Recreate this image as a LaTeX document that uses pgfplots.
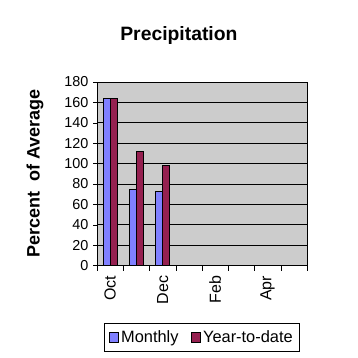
\documentclass[border=0pt]{standalone}
\usepackage{pgfplots}
\pgfplotsset{compat=1.18}
\usepackage{fontspec}
\setmainfont{Liberation Sans}
\definecolor{bgdots}{HTML}{CCCCCC}
\definecolor{monthly}{HTML}{8080FF}
\definecolor{ytd}{HTML}{952050}
\begin{document}
\begin{tikzpicture}
\useasboundingbox (0pt,0pt) rectangle (268.5pt,268.5pt);
\begin{axis}[
  at={(72.75pt,69.3pt)}, anchor=south west,
  scale only axis,
  width=157.5pt, height=137.7pt,
  axis background/.style={fill=bgdots},
  ybar=0pt, bar width=5.25pt,
  xmin=-0.5, xmax=7.5,
  ymin=0, ymax=180,
  ytick={0,20,...,180},
  xtick={0,...,7},
  xticklabels={Oct,,Dec,,Feb,,Apr,},
  major x tick style={draw=none},
  minor xtick={-0.5,0.5,...,7.5},
  minor tick length=4pt,
  tick align=outside,
  major tick length=3pt,
  xtick pos=bottom, ytick pos=left,
  x tick label style={rotate=90, anchor=east, inner xsep=4.5pt, font=\fontsize{12}{13}\selectfont},
  y tick label style={font=\fontsize{10.8}{12}\selectfont},
  /pgf/number format/assume math mode=true,
  ymajorgrids, grid style={black, line width=0.6pt},
  axis line style={gray},
  separate axis lines,
  every outer x axis line/.append style={black},
  every outer y axis line/.append style={black},
  tick style={black},
  ylabel={\bfseries Percent\ \ of Average},
  ylabel style={font=\fontsize{13.5}{15}\selectfont, at={(rel axis cs:-0.295,0.5)}, anchor=center},
  title={\bfseries Precipitation},
  title style={font=\fontsize{14.5}{16}\selectfont, at={(rel axis cs:0.39,1.207)}, anchor=center, yshift=0pt},
  legend style={at={(rel axis cs:0.5,-0.39)}, anchor=center, legend columns=2,
    draw=black, font=\fontsize{12.3}{13}\selectfont, inner ysep=3pt,
    /tikz/every even column/.append style={column sep=7pt}},
  legend image code/.code={\draw[#1] (0pt,-3.5pt) rectangle (7pt,3.5pt);},
]
\addplot[fill=monthly, draw=black] coordinates {(0,164) (1,75) (2,73)};
\addplot[fill=ytd, draw=black] coordinates {(0,164) (1,112) (2,98)};
\legend{Monthly, Year-to-date}
\end{axis}
\end{tikzpicture}
\end{document}
